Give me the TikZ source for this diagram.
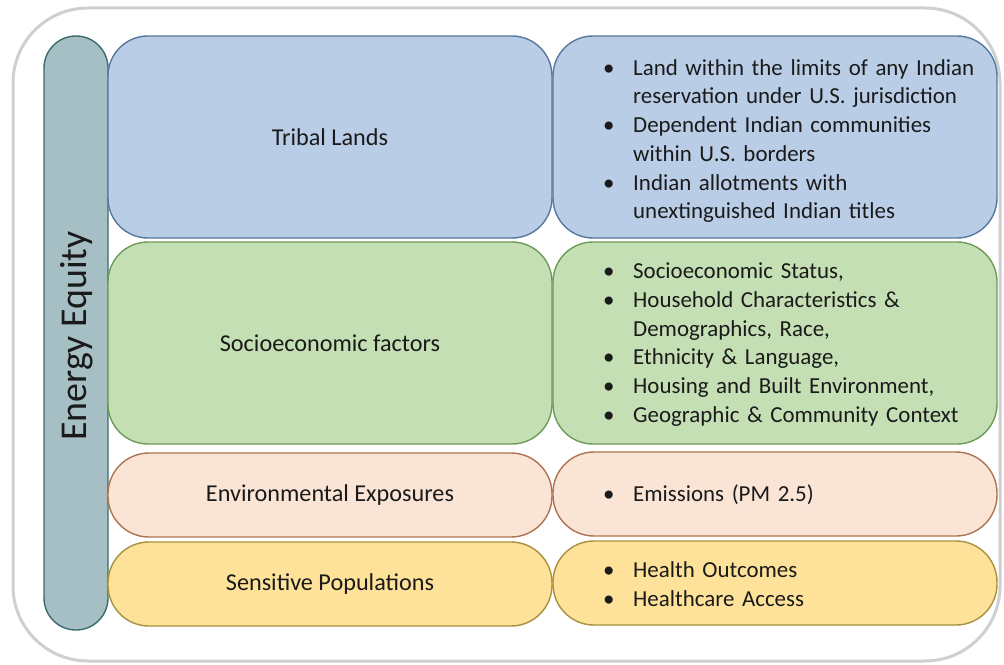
\documentclass[tikz,border=0pt]{standalone}
\usepackage{fontspec}
\setmainfont{Carlito}
\definecolor{framegray}{HTML}{CFCFCF}
\definecolor{pillfill}{HTML}{A6BFC4}
\definecolor{pilldraw}{HTML}{3B6B6D}
\definecolor{bluefill}{HTML}{B9CDE6}
\definecolor{bluedraw}{HTML}{56789E}
\definecolor{greenfill}{HTML}{C5DFB4}
\definecolor{greendraw}{HTML}{6E9A57}
\definecolor{peachfill}{HTML}{FAE4D6}
\definecolor{peachdraw}{HTML}{AE7350}
\definecolor{yellowfill}{HTML}{FEE299}
\definecolor{yellowdraw}{HTML}{A8913C}
\definecolor{inktext}{HTML}{1A1A1A}
% one bulleted entry; continuation lines hang under the text
\newcommand\bulletentry[1]{\hangindent=30bp\hangafter=1\noindent\makebox[30bp][l]{\textbullet}#1\par}
\tikzset{
  panel/.style={draw, line width=1.4bp, minimum width=444bp, inner sep=0pt,
    font=\fontsize{24.3}{28}\selectfont, text=inktext},
  tall/.style={minimum height=202bp, rounded corners=40bp},
  short/.style={minimum height=84bp, rounded corners=41bp},
  bullets/.style={anchor=west, inner sep=0pt, text width=400bp,
    font=\fontsize{23}{28.8}\selectfont\raggedright, text=inktext},
}
\begin{document}
\begin{tikzpicture}[x=1bp, y=-1bp]
\useasboundingbox (0,0) rectangle (1004,665);
% outer frame
\draw[framegray, line width=3bp, rounded corners=75bp] (13,8) rectangle (1000,661);
% vertical title pill
\node[draw=pilldraw, fill=pillfill, line width=1.4bp, minimum width=64bp, minimum height=594bp,
  rounded corners=32bp, inner sep=0pt] (pill) at (76,333) {};
\node[rotate=90, font=\fontsize{38}{42}\selectfont, text=inktext] (title) at (77,336) {Energy Equity};
% category panels
\node[panel, tall, draw=bluedraw, fill=bluefill] (tribal) at (330,137) {Tribal Lands};
\node[panel, tall, draw=bluedraw, fill=bluefill] (tribalR) at (775,137) {};
\node[panel, tall, draw=greendraw, fill=greenfill] (socio) at (330,343) {Socioeconomic factors};
\node[panel, tall, draw=greendraw, fill=greenfill] (socioR) at (775,343) {};
\node[panel, short, draw=peachdraw, fill=peachfill] (env) at (330,495) {Environmental Exposures};
\node[panel, short, draw=peachdraw, fill=peachfill] (envR) at (775,494) {};
\node[panel, short, draw=yellowdraw, fill=yellowfill] (sens) at (330,584) {Sensitive Populations};
\node[panel, short, draw=yellowdraw, fill=yellowfill] (sensR) at (775,583) {};
% detail lists
\node[bullets] (tribalList) at (603,141) {%
  \bulletentry{Land within the limits of any Indian\newline reservation under U.S. jurisdiction}
  \bulletentry{Dependent Indian communities\newline within U.S. borders}
  \bulletentry{Indian allotments with\newline unextinguished Indian titles}};
\node[bullets] (socioList) at (603,344.5) {%
  \bulletentry{Socioeconomic Status,}
  \bulletentry{Household Characteristics \&\newline Demographics, Race,}
  \bulletentry{Ethnicity \& Language,}
  \bulletentry{Housing and Built Environment,}
  \bulletentry{Geographic \& Community Context}};
\node[bullets] (envList) at (603,495) {\bulletentry{Emissions (PM 2.5)}};
\node[bullets] (sensList) at (603,584) {%
  \bulletentry{Health Outcomes}
  \bulletentry{Healthcare Access}};
\end{tikzpicture}
\end{document}
